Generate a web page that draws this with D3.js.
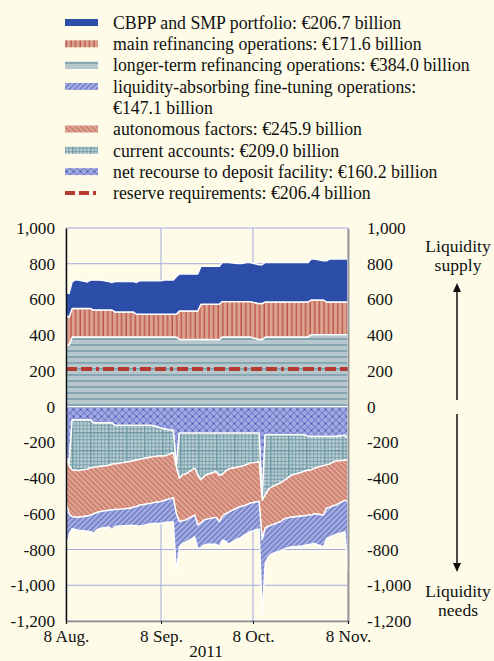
<!DOCTYPE html>
<html><head><meta charset="utf-8">
<script src="https://cdn.jsdelivr.net/npm/d3@7"></script>
<style>
html,body{margin:0;padding:0;background:#fefce8;}
text{font-family:"Liberation Serif","Times New Roman",serif;fill:#111;}
</style>
</head><body>
<svg id="c" width="494" height="661"></svg>
<script>
// ---------- data (EUR billions) ----------
const dates = ["2011-08-08","2011-08-09","2011-08-10","2011-08-11","2011-08-12","2011-08-15","2011-08-16","2011-08-17","2011-08-18","2011-08-19","2011-08-22","2011-08-23","2011-08-24","2011-08-25","2011-08-26","2011-08-29","2011-08-30","2011-08-31","2011-09-01","2011-09-02","2011-09-05","2011-09-06","2011-09-07","2011-09-08","2011-09-09","2011-09-12","2011-09-13","2011-09-14","2011-09-15","2011-09-16","2011-09-19","2011-09-20","2011-09-21","2011-09-22","2011-09-23","2011-09-26","2011-09-27","2011-09-28","2011-09-29","2011-09-30","2011-10-03","2011-10-04","2011-10-05","2011-10-06","2011-10-07","2011-10-10","2011-10-11","2011-10-12","2011-10-13","2011-10-14","2011-10-17","2011-10-18","2011-10-19","2011-10-20","2011-10-21","2011-10-24","2011-10-25","2011-10-26","2011-10-27","2011-10-28","2011-10-31","2011-11-01","2011-11-02","2011-11-03","2011-11-04","2011-11-07","2011-11-08"];

const ltro = [345,345,390,390,390,390,390,390,390,390,390,390,390,390,390,390,390,390,390,390,390,390,390,390,390,390,390,376,376,376,376,376,376,376,376,376,376,390,390,390,390,390,390,390,390,376,376,390,390,390,390,390,390,390,390,390,390,390,403,403,403,403,403,403,403,403,403];
const mro = [168,155,159,159,159,159,159,151,151,151,151,151,140,140,140,140,140,127,127,127,127,127,127,127,127,127,127,159,159,159,159,159,197,197,197,197,197,198,198,198,198,198,198,198,198,201,201,196,196,196,196,196,196,196,196,196,196,196,194,194,194,183,183,183,183,183,183];
const cbpp = [126,133,149,160,160,149,159,167,167,167,159,154,170,170,170,170,170,178,187,187,187,187,187,187,192,192,210,207,207,207,207,207,212,212,212,212,212,219,219,219,213,213,215,219,219,217,217,221,221,221,221,221,221,221,221,221,221,221,229,229,219,230,240,240,240,240,240];
const deposit = [-280,-320,-75,-75,-75,-75,-75,-92,-92,-92,-92,-92,-105,-105,-105,-105,-105,-105,-105,-105,-105,-110,-115,-120,-125,-133,-335,-148,-148,-148,-148,-148,-148,-148,-148,-148,-148,-148,-148,-148,-148,-148,-148,-148,-148,-148,-520,-157,-157,-157,-157,-157,-157,-157,-157,-157,-160,-167,-167,-167,-167,-167,-167,-167,-167,-160,-180];
const currentAcc = [-10,-10,-279,-281,-283,-275,-268,-248,-245,-243,-236,-230,-215,-213,-210,-202,-197,-194,-190,-187,-176,-170,-162,-155,-152,-126,-5,-253,-234,-230,-197,-234,-262,-244,-232,-215,-237,-232,-215,-202,-190,-187,-182,-177,-168,-162,-5,-338,-308,-293,-270,-258,-248,-233,-225,-210,-200,-189,-187,-178,-163,-159,-155,-145,-138,-140,-120];
const autonomous = [-250,-270,-262,-262,-261,-262,-264,-260,-257,-253,-252,-256,-256,-257,-259,-262,-261,-259,-257,-257,-259,-256,-257,-257,-248,-252,-260,-243,-256,-257,-262,-281,-240,-243,-250,-257,-259,-235,-237,-242,-227,-225,-225,-223,-225,-220,-220,-185,-204,-213,-217,-215,-219,-230,-236,-245,-250,-252,-252,-255,-277,-243,-243,-243,-246,-225,-230];
const fineTuning = [-245,-120,-66,-70,-72,-85,-93,-110,-96,-94,-94,-113,-96,-93,-94,-94,-102,-109,-116,-116,-114,-118,-120,-122,-123,-133,-325,-141,-128,-125,-122,-132,-140,-140,-140,-150,-141,-132,-152,-178,-175,-173,-165,-164,-159,-155,-410,-195,-172,-162,-162,-168,-168,-166,-166,-168,-166,-164,-164,-165,-178,-169,-165,-167,-164,-175,-400];

const reserveDates = ["2011-08-08","2011-11-08"];
const reserveValues = [211,211];

const yTicks = [1000,800,600,400,200,0,-200,-400,-600,-800,-1000,-1200];
const xTickDates = ["2011-08-08","2011-09-08","2011-10-08","2011-11-08"];
const xTickLabels = ["8 Aug.","8 Sep.","8 Oct.","8 Nov."];
const yearLabel = "2011";

const legendLabels = [
  ["CBPP and SMP portfolio: €206.7 billion"],
  ["main refinancing operations: €171.6 billion"],
  ["longer-term refinancing operations: €384.0 billion"],
  ["liquidity-absorbing fine-tuning operations:","€147.1 billion"],
  ["autonomous factors: €245.9 billion"],
  ["current accounts: €209.0 billion"],
  ["net recourse to deposit facility: €160.2 billion"],
  ["reserve requirements: €206.4 billion"]
];
const legendKeys = ["cbpp","mro","ltro","fineTuning","autonomous","currentAcc","deposit","reserve"];
const supplyText = ["Liquidity","supply"];
const needsText = ["Liquidity","needs"];

// ---------- setup ----------
const parse = d3.timeParse("%Y-%m-%d");
const rows = dates.map((d,i)=>({date:parse(d), ltro:ltro[i], mro:mro[i], cbpp:cbpp[i],
  deposit:deposit[i], currentAcc:currentAcc[i], autonomous:autonomous[i], fineTuning:fineTuning[i]}));

const svg = d3.select("#c");
svg.append("rect").attr("width",494).attr("height",661).attr("fill","#fefce8");

const x = d3.scaleTime().domain([parse("2011-08-08"), parse("2011-11-08")]).range([66,348]);
const y = d3.scaleLinear().domain([-1200,1000]).range([621,228]);

// patterns
const defs = svg.append("defs");
function pat(id,w,h,bg,draw,transform){
  const p = defs.append("pattern").attr("id",id).attr("patternUnits","userSpaceOnUse")
    .attr("width",w).attr("height",h);
  if(transform) p.attr("patternTransform",transform);
  p.append("rect").attr("width",w).attr("height",h).attr("fill",bg);
  draw(p);
}
pat("p-mro",4.6,10,"#daa38f",p=>p.append("line").attr("x1",2).attr("x2",2).attr("y1",0).attr("y2",10)
   .attr("stroke","#b8403a").attr("stroke-width",1.1));
pat("p-ltro",10,6,"#b6c8cc",p=>p.append("line").attr("x1",0).attr("x2",10).attr("y1",3).attr("y2",3)
   .attr("stroke","#6390a0").attr("stroke-width",1.2));
pat("p-ft",3.8,10,"#a7afe2",p=>p.append("line").attr("x1",1.9).attr("x2",1.9).attr("y1",0).attr("y2",10)
   .attr("stroke","#4f60b5").attr("stroke-width",1),"rotate(45)");
pat("p-aut",3.8,10,"#dca693",p=>p.append("line").attr("x1",1.9).attr("x2",1.9).attr("y1",0).attr("y2",10)
   .attr("stroke","#c24b45").attr("stroke-width",0.8),"rotate(-45)");
pat("p-ca",18,18,"#bccdd2",p=>{
  for(let k=0;k<5;k++){
    const o = k*3.6+0.5;
    p.append("line").attr("x1",o).attr("x2",o).attr("y1",0).attr("y2",18).attr("stroke","#6f9ca8").attr("stroke-width",k===0?2:0.9);
    p.append("line").attr("y1",o).attr("y2",o).attr("x1",0).attr("x2",18).attr("stroke","#6f9ca8").attr("stroke-width",k===0?2:0.9);
  }
});
pat("p-df",7,7,"#a2a9e0",p=>{
  p.append("path").attr("d","M0,0L7,7M7,0L0,7").attr("stroke","#7380cc").attr("stroke-width",1.1);
  p.append("circle").attr("cx",3.5).attr("cy",3.5).attr("r",0.8).attr("fill","#3e4fb0");
});

const fills = {ltro:"url(#p-ltro)", mro:"url(#p-mro)", cbpp:"#2c4ea8",
  deposit:"url(#p-df)", currentAcc:"url(#p-ca)", autonomous:"url(#p-aut)", fineTuning:"url(#p-ft)"};

// gridlines
const grid = svg.append("g");
yTicks.forEach(t=>grid.append("line").attr("x1",66).attr("x2",348).attr("y1",y(t)).attr("y2",y(t))
  .attr("stroke","#a3aade").attr("stroke-width",1));
xTickDates.forEach(t=>grid.append("line").attr("x1",x(parse(t))).attr("x2",x(parse(t))).attr("y1",228).attr("y2",621)
  .attr("stroke","#a3aade").attr("stroke-width",1));

// stacked areas
const keys = ["ltro","mro","cbpp","deposit","currentAcc","autonomous","fineTuning"];
const series = d3.stack().keys(keys).offset(d3.stackOffsetDiverging)(rows);
const area = d3.area().x(d=>x(d.data.date)).y0(d=>y(d[0])).y1(d=>y(d[1]));
svg.append("g").selectAll("path").data(series).join("path")
  .attr("d",area).attr("fill",s=>fills[s.key])
  .attr("stroke","#ffffff").attr("stroke-width",1.4).attr("stroke-linejoin","round");

// reserve requirements
const resLine = d3.line().x(d=>x(parse(d[0]))).y(d=>y(d[1]));
svg.append("path").attr("d",resLine(reserveDates.map((d,i)=>[d,reserveValues[i]])))
  .attr("fill","none").attr("stroke","#b73a30").attr("stroke-width",4)
  .attr("stroke-dasharray","11,4,11,4,3,4");

// axes
const fmt = v=>d3.format(",")(v).replace("−","-");
const gl = svg.append("g").attr("transform","translate(66,0)")
  .call(d3.axisLeft(y).tickValues(yTicks).tickSize(0).tickPadding(11).tickFormat(fmt));
gl.select(".domain").attr("stroke","#111").attr("stroke-width",1.5);
const gr = svg.append("g").attr("transform","translate(348,0)")
  .call(d3.axisRight(y).tickValues(yTicks).tickSize(0).tickPadding(19).tickFormat(fmt));
gr.select(".domain").attr("stroke","#9a9a9a").attr("stroke-width",2);
const gb = svg.append("g").attr("transform","translate(0,621)")
  .call(d3.axisBottom(x).tickValues(xTickDates.map(parse)).tickSize(3).tickPadding(6)
    .tickFormat((d,i)=>xTickLabels[i]));
gb.select(".domain").attr("stroke","#888").attr("stroke-width",1.5);
gb.selectAll(".tick line").attr("stroke","#111");
svg.selectAll(".tick text").attr("font-size",17.2).attr("font-family","'Liberation Serif','Times New Roman',serif").attr("fill","#111");
svg.append("text").attr("x",206).attr("y",657).attr("text-anchor","middle").attr("font-size",17.2).text(yearLabel);

// right annotations
const ann = svg.append("g").attr("font-size",17.6).attr("text-anchor","middle");
supplyText.forEach((t,i)=>ann.append("text").attr("x",458).attr("y",252+i*19).text(t));
needsText.forEach((t,i)=>ann.append("text").attr("x",458).attr("y",597+i*19).text(t));
svg.append("line").attr("x1",457).attr("x2",457).attr("y1",400).attr("y2",290).attr("stroke","#111").attr("stroke-width",1.5);
svg.append("path").attr("d","M457,283L453,292L461,292Z").attr("fill","#111");
svg.append("line").attr("x1",457).attr("x2",457).attr("y1",414).attr("y2",564).attr("stroke","#111").attr("stroke-width",1.5);
svg.append("path").attr("d","M457,572L453,563L461,563Z").attr("fill","#111");

// legend
const lg = svg.append("g");
let slot = 0;
legendKeys.forEach((k,i)=>{
  const cy = 22.5 + 21.3*slot;
  if(k==="reserve"){
    lg.append("line").attr("x1",65).attr("x2",99).attr("y1",cy).attr("y2",cy)
      .attr("stroke","#b73a30").attr("stroke-width",4).attr("stroke-dasharray","10,4,10,4,3,4");
  } else {
    lg.append("rect").attr("x",65).attr("y",cy-3.5).attr("width",33).attr("height",7).attr("fill",fills[k]);
  }
  legendLabels[i].forEach((t,j)=>{
    lg.append("text").attr("x",113).attr("y",cy+6.3+21.3*j).attr("font-size",17.8).text(t);
  });
  slot += legendLabels[i].length;
});
</script>
</body></html>
